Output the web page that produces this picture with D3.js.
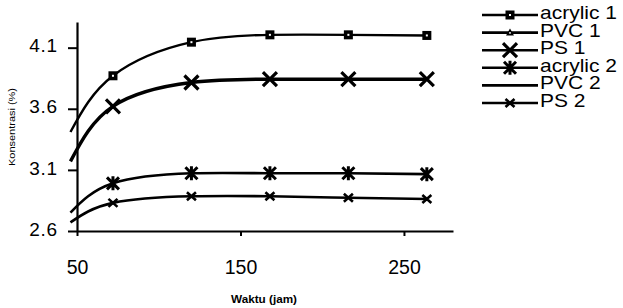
<!DOCTYPE html>
<html><head><meta charset="utf-8">
<script src="https://cdn.jsdelivr.net/npm/d3@7"></script>
<style>body{margin:0;background:#fff}svg{display:block}</style>
</head><body>
<svg id="c" width="623" height="308"></svg>
<script>
// Time (hours); first entry is where the drawn curve begins, left of the axis
const hours = [46, 72, 120, 168, 216, 264];
const acrylic1 = [3.41, 3.87, 4.145, 4.205, 4.205, 4.2];
const pvc1 = [];   // not visible in the chart
const ps1 = [3.17, 3.62, 3.815, 3.842, 3.842, 3.842];
const acrylic2 = [2.75, 2.99, 3.072, 3.072, 3.072, 3.065];
const pvc2 = [];   // not visible in the chart
const ps2 = [2.67, 2.83, 2.884, 2.884, 2.872, 2.862];
const seriesNames = ["acrylic 1", "PVC 1", "PS 1", "acrylic 2", "PVC 2", "PS 2"];
const xTicks = [50, 150, 250];
const yTicks = [2.6, 3.1, 3.6, 4.1];

const svg = d3.select("#c");
const font = "Liberation Sans, Arial, sans-serif";
const x = d3.scaleLinear().domain([50, 280]).range([77, 453]);
const y = d3.scaleLinear().domain([2.6, 4.31]).range([231, 22]);

const series = [
  {name: seriesNames[0], vals: acrylic1, marker: "square", w: 2.4},
  {name: seriesNames[1], vals: pvc1, marker: "triangle", w: 2.4},
  {name: seriesNames[2], vals: ps1, marker: "bigx", w: 3.4},
  {name: seriesNames[3], vals: acrylic2, marker: "asterisk", w: 2.6},
  {name: seriesNames[4], vals: pvc2, marker: "none", w: 2.4},
  {name: seriesNames[5], vals: ps2, marker: "smallx", w: 2.6}
];

function drawMarker(g, type, cx, cy) {
  const s = g.append("g").attr("transform", `translate(${cx},${cy})`);
  if (type === "square") {
    s.append("rect").attr("x", -4.5).attr("y", -4.5).attr("width", 9).attr("height", 9).attr("fill", "#000");
    s.append("rect").attr("x", -1).attr("y", -1).attr("width", 2).attr("height", 2).attr("fill", "#fff");
  } else if (type === "triangle") {
    s.append("path").attr("d", "M0,-4L4,3L-4,3Z").attr("fill", "#000");
    s.append("rect").attr("x", -0.8).attr("y", -0.5).attr("width", 1.6).attr("height", 1.6).attr("fill", "#fff");
  } else if (type === "bigx") {
    s.append("path").attr("d", "M-7,-7L7,7M-7,7L7,-7").attr("stroke", "#000").attr("stroke-width", 3.2);
  } else if (type === "asterisk") {
    s.append("path").attr("d", "M-6,-6L6,6M-6,6L6,-6M0,-7L0,7").attr("stroke", "#000").attr("stroke-width", 3);
  } else if (type === "smallx") {
    s.append("path").attr("d", "M-4.5,-4L4.5,4M-4.5,4L4.5,-4").attr("stroke", "#000").attr("stroke-width", 2.6);
  }
}

// axes
const xAxis = svg.append("g").attr("transform", "translate(0,231)")
  .call(d3.axisBottom(x).tickValues(xTicks).tickSize(5).tickSizeOuter(0).tickFormat(d3.format("d")));
xAxis.select(".domain").attr("stroke-width", 2.2);
xAxis.selectAll(".tick line").attr("stroke-width", 2);
xAxis.selectAll(".tick text").attr("font-family", font).attr("font-size", 19.5)
  .attr("y", 43).attr("dy", 0).attr("fill", "#000");

const yAxis = svg.append("g").attr("transform", "translate(77,0)")
  .call(d3.axisLeft(y).tickValues(yTicks).tickSize(9).tickSizeOuter(0).tickFormat(d3.format(".1f")));
yAxis.select(".domain").attr("stroke-width", 2.2);
yAxis.selectAll(".tick line").attr("stroke-width", 2);
yAxis.selectAll(".tick text").attr("font-family", font).attr("font-size", 19).attr("x", -19)
  .attr("dy", "0.22em").attr("fill", "#000").attr("letter-spacing", 0.8);

// curves + markers
const line = d3.line().x(d => x(d[0])).y(d => y(d[1])).curve(d3.curveNatural);
series.forEach(s => {
  if (!s.vals.length) return;
  const pts = hours.map((h, i) => [h, s.vals[i]]);
  svg.append("path").attr("d", line(pts)).attr("fill", "none").attr("stroke", "#000").attr("stroke-width", s.w);
  const mg = svg.append("g");
  pts.slice(1).forEach(p => drawMarker(mg, s.marker, x(p[0]), y(p[1])));
});

// legend
const lg = svg.append("g");
series.forEach((s, i) => {
  const yy = 15 + i * 17.6;
  lg.append("line").attr("x1", 482).attr("x2", 538).attr("y1", yy).attr("y2", yy).attr("stroke", "#000").attr("stroke-width", 2.6);
  drawMarker(lg, s.marker, 510, yy);
  lg.append("text").attr("transform", `translate(540,${yy + 4}) scale(1.2,1)`)
    .attr("font-family", font).attr("font-size", 17.5).attr("fill", "#000").text(s.name);
});

// axis titles
svg.append("text").attr("x", 264).attr("y", 303).attr("text-anchor", "middle")
  .attr("font-family", font).attr("font-size", 10.5).attr("font-weight", "bold")
  .attr("textLength", 66).attr("lengthAdjust", "spacingAndGlyphs").text("Waktu (jam)");
svg.append("text").attr("transform", "translate(15,127) rotate(-90)").attr("text-anchor", "middle")
  .attr("font-family", font).attr("font-size", 9.5)
  .attr("textLength", 78).attr("lengthAdjust", "spacingAndGlyphs").text("Konsentrasi (%)");
</script>
</body></html>
